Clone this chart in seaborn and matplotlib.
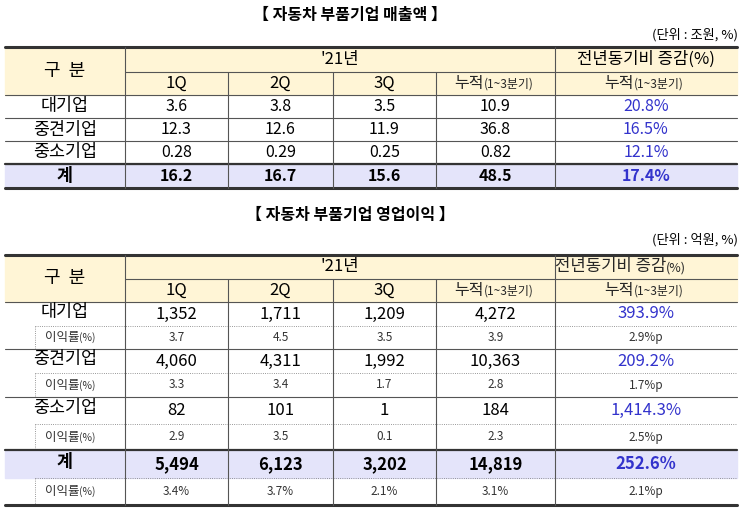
import matplotlib
matplotlib.use("Agg")
import matplotlib.pyplot as plt
import seaborn as sns
from matplotlib.patches import Rectangle

sns.set_theme(style="white")
plt.rcParams['font.family'] = ['Noto Sans CJK KR', 'DejaVu Sans']

title1 = "【 자동차 부품기업 매출액 】"
title2 = "【 자동차 부품기업 영업이익 】"
unit1 = "(단위 : 조원, %)"
unit2 = "(단위 : 억원, %)"
quarters = ["1Q", "2Q", "3Q"]
groups = ["대기업", "중견기업", "중소기업", "계"]
sales_q = [["3.6", "3.8", "3.5"], ["12.3", "12.6", "11.9"], ["0.28", "0.29", "0.25"], ["16.2", "16.7", "15.6"]]
sales_cum = ["10.9", "36.8", "0.82", "48.5"]
sales_yoy = ["20.8%", "16.5%", "12.1%", "17.4%"]
op_q = [["1,352", "1,711", "1,209"], ["4,060", "4,311", "1,992"], ["82", "101", "1"], ["5,494", "6,123", "3,202"]]
op_cum = ["4,272", "10,363", "184", "14,819"]
op_yoy = ["393.9%", "209.2%", "1,414.3%", "252.6%"]
margin_q = [["3.7", "4.5", "3.5"], ["3.3", "3.4", "1.7"], ["2.9", "3.5", "0.1"], ["3.4%", "3.7%", "2.1%"]]
margin_cum = ["3.9", "2.8", "2.3", "3.1%"]
margin_yoy = ["2.9%p", "1.7%p", "2.5%p", "2.1%p"]

W, H = 745, 514
fig = plt.figure(figsize=(W/100, H/100), dpi=100)
ax = fig.add_axes([0, 0, 1, 1])
ax.set_xlim(0, W); ax.set_ylim(H, 0); ax.axis('off')

cols = [5, 125, 228, 333, 436, 555, 737]
HDR = "#FFF5D6"; TOT = "#E4E4FA"; BLUE = "#3333CC"

def hline(y, x0=cols[0], x1=cols[-1], lw=0.8, ls='-', c='#555'):
    ax.plot([x0, x1], [y, y], color=c, lw=lw, ls=ls)
def vline(x, y0, y1, lw=0.8, ls='-', c='#555'):
    ax.plot([x, x], [y0, y1], color=c, lw=lw, ls=ls)
def t(x, y, s, size=11, weight='normal', color='black', ha='center'):
    ax.text(x, y, s, fontsize=size, weight=weight, color=color, ha=ha, va='center')
def cx(i):
    return (cols[i] + cols[i+1]) / 2

def cum_label(x, y, size=11.5):
    ax.text(x, y, "누적", fontsize=size, ha='right', va='center')
    ax.text(x, y + 1, "(1~3분기)", fontsize=size*0.75, ha='left', va='center')

def header(top, mid, bot, pct_small):
    ax.add_patch(Rectangle((cols[0], top), cols[-1]-cols[0], bot-top, color=HDR, zorder=0))
    hline(top, lw=2.2, c='#333')
    hline(mid, cols[1], cols[-1])
    hline(bot)
    t(cx(0), (top+bot)/2, "구  분", size=13)
    t((cols[1]+cols[5])/2, (top+mid)/2, "'21년", size=12)
    if pct_small:
        ax.text(cx(5)+20, (top+mid)/2, "전년동기비 증감", fontsize=12, ha='right', va='center')
        ax.text(cx(5)+20, (top+mid)/2+1, "(%)", fontsize=9, ha='left', va='center')
    else:
        t(cx(5), (top+mid)/2, "전년동기비 증감(%)", size=12)
    for i, q in enumerate(quarters):
        t(cx(i+1), (mid+bot)/2, q, size=12)
    cum_label(cx(4)-12, (mid+bot)/2)
    cum_label(cx(5)-12, (mid+bot)/2)

def verticals(top, mid, bottom):
    vline(cols[1], top, bottom)
    vline(cols[5], top, bottom)
    for x in cols[2:5]:
        vline(x, mid, bottom)

# ---- Table 1
t(350, 15, title1, size=11.5, weight='bold')
t(738, 35, unit1, size=9.5, ha='right')
top, mid, bot = 47, 72, 95
header(top, mid, bot, False)
rows = [95, 118, 141, 164, 188]
ax.add_patch(Rectangle((cols[0], rows[3]), cols[-1]-cols[0], rows[4]-rows[3], color=TOT, zorder=0))
for r in range(4):
    y = (rows[r] + rows[r+1]) / 2
    bold = 'bold' if r == 3 else 'normal'
    t(cx(0), y, groups[r], size=12.5, weight=bold)
    for i in range(3):
        t(cx(i+1), y, sales_q[r][i], size=11.5, weight=bold)
    t(cx(4), y, sales_cum[r], size=11.5, weight=bold)
    t(cx(5), y, sales_yoy[r], size=11.5, weight=bold, color=BLUE)
    if r < 3:
        hline(rows[r+1])
hline(rows[3], lw=1.6, c='#333')
hline(rows[4], lw=2.2, c='#333')
verticals(top, mid, rows[4])

# ---- Table 2
t(350, 215, title2, size=11.5, weight='bold')
t(738, 240, unit2, size=9.5, ha='right')
top, mid, bot = 255, 279, 302
header(top, mid, bot, True)
main_rows = [(302, 326), (349, 373), (397, 424), (450, 478)]
sub_rows = [(326, 349), (373, 397), (424, 450), (478, 505)]
ax.add_patch(Rectangle((cols[0], 450), cols[-1]-cols[0], 28, color=TOT, zorder=0))
for r in range(4):
    y0, y1 = main_rows[r]
    y = (y0 + y1) / 2
    bold = 'bold' if r == 3 else 'normal'
    t(cx(0), y - 2, groups[r], size=12.5, weight=bold)
    for i in range(3):
        t(cx(i+1), y, op_q[r][i], size=12, weight=bold)
    t(cx(4), y, op_cum[r], size=12, weight=bold)
    t(cx(5), y, op_yoy[r], size=12, weight=bold, color=BLUE)
    s0, s1 = sub_rows[r]
    ys = (s0 + s1) / 2
    hline(s0, 35, cols[-1], lw=0.6, ls=':', c='#777')
    vline(35, s0, s1, lw=0.6, ls=':', c='#777')
    ax.text(cx(0) + 14, ys, "이익률", fontsize=9, ha='right', va='center', color='#333')
    ax.text(cx(0) + 14, ys + 0.5, "(%)", fontsize=7.5, ha='left', va='center', color='#333')
    for i in range(3):
        t(cx(i+1), ys, margin_q[r][i], size=8.5, color='#333')
    t(cx(4), ys, margin_cum[r], size=8.5, color='#333')
    t(cx(5), ys, margin_yoy[r], size=8.5, color='#333')
    if r < 2:
        hline(s1)
hline(450, lw=1.6, c='#333')
hline(505, lw=2.2, c='#333')
verticals(top, mid, 505)

fig.savefig("out.png", dpi=100)
